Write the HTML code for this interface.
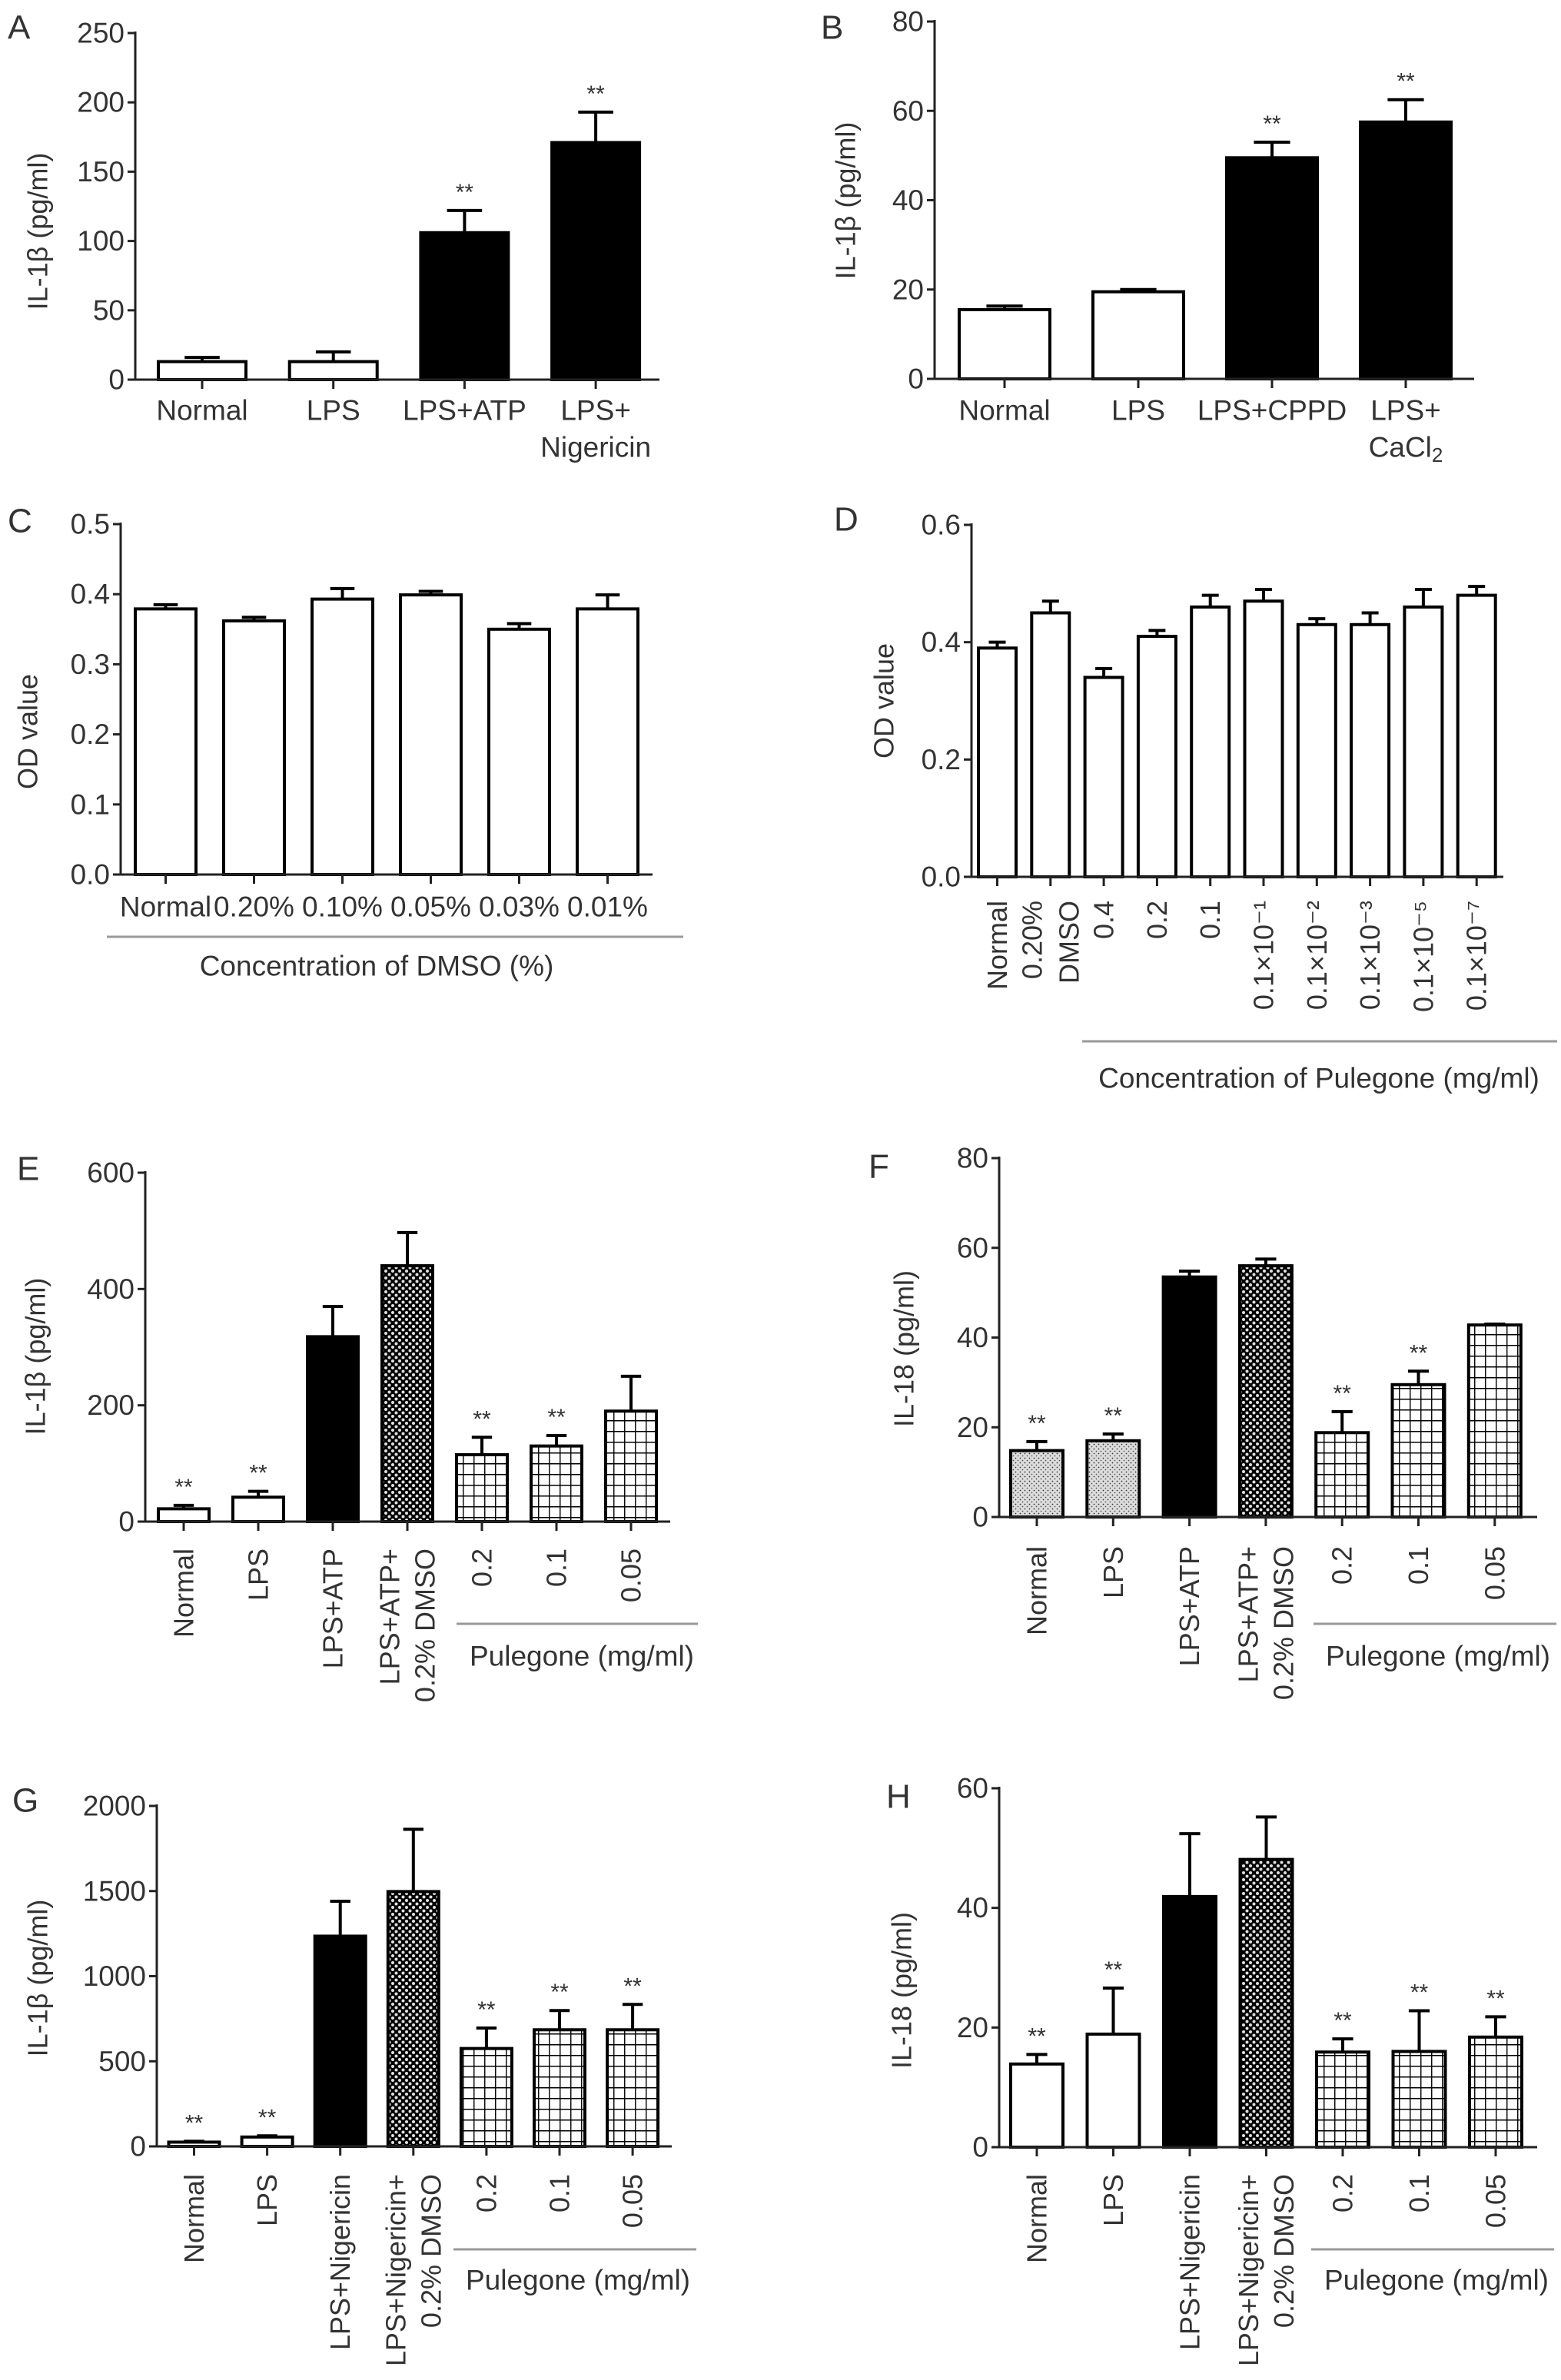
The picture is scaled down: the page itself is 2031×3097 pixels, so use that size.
<!DOCTYPE html>
<html><head><meta charset="utf-8">
<style>
html,body{margin:0;padding:0;background:#fff;}
svg{display:block;}
text{font-family:"Liberation Sans",Arial,sans-serif;fill:#333;}
</style></head>
<body>
<svg id="fig" xmlns="http://www.w3.org/2000/svg" width="2031" height="3097" viewBox="0 0 2031 3097">
<defs>
<pattern id="dots" width="9" height="9" patternUnits="userSpaceOnUse"><rect width="9" height="9" fill="#000"/><circle cx="2.5" cy="2.5" r="2" fill="#e0e0e0"/><circle cx="7" cy="7" r="2" fill="#e0e0e0"/></pattern>
<pattern id="grid" width="14" height="14" patternUnits="userSpaceOnUse"><rect width="14" height="14" fill="#fff"/><path d="M0 0.75H14M0.75 0V14" stroke="#000" stroke-width="1.4"/></pattern>
<pattern id="stip" width="6" height="6" patternUnits="userSpaceOnUse"><rect width="6" height="6" fill="#ddd"/><circle cx="1.5" cy="1.5" r="0.9" fill="#333"/><circle cx="4.5" cy="4.5" r="0.9" fill="#555"/></pattern>
</defs>
</svg>
<script>
// ---- data ----
const aCats=["Normal","LPS","LPS+ATP","LPS+\nNigericin"];
const aVals=[13,13,106,171];
const aErrs=[16,20,122,193];
const aStars=[0,0,1,1];
const aTicks=[0,50,100,150,200,250];

const bCats=["Normal","LPS","LPS+CPPD","LPS+\nCaCl_2"];
const bVals=[15.5,19.5,49.5,57.5];
const bErrs=[16.3,20,53,62.5];
const bStars=[0,0,1,1];
const bTicks=[0,20,40,60,80];

const cCats=["Normal","0.20%","0.10%","0.05%","0.03%","0.01%"];
const cVals=[0.379,0.362,0.393,0.399,0.350,0.379];
const cErrs=[0.385,0.367,0.408,0.404,0.358,0.399];
const cStars=[0,0,0,0,0,0];
const cTicks=[0,0.1,0.2,0.3,0.4,0.5];

const dCats=["Normal","0.20%\nDMSO","0.4","0.2","0.1","0.1×10⁻¹","0.1×10⁻²","0.1×10⁻³","0.1×10⁻⁵","0.1×10⁻⁷"];
const dVals=[0.39,0.45,0.34,0.41,0.46,0.47,0.43,0.43,0.46,0.48];
const dErrs=[0.40,0.47,0.355,0.42,0.48,0.49,0.44,0.45,0.49,0.495];
const dStars=[0,0,0,0,0,0,0,0,0,0];
const dTicks=[0,0.2,0.4,0.6];

const eCats=["Normal","LPS","LPS+ATP","LPS+ATP+\n0.2% DMSO","0.2","0.1","0.05"];
const eVals=[22,42,318,440,115,130,190];
const eErrs=[28,52,370,497,145,148,250];
const eStars=[1,1,0,0,1,1,0];
const eTicks=[0,200,400,600];

const fCats=["Normal","LPS","LPS+ATP","LPS+ATP+\n0.2% DMSO","0.2","0.1","0.05"];
const fVals=[14.8,17,53.5,56,18.8,29.5,42.8];
const fErrs=[16.8,18.5,54.8,57.5,23.5,32.5,43];
const fStars=[1,1,0,0,1,1,0];
const fTicks=[0,20,40,60,80];

const gCats=["Normal","LPS","LPS+Nigericin","LPS+Nigericin+\n0.2% DMSO","0.2","0.1","0.05"];
const gVals=[25,55,1235,1497,575,685,685];
const gErrs=[30,62,1440,1863,695,798,834];
const gStars=[1,1,0,0,1,1,1];
const gTicks=[0,500,1000,1500,2000];

const hCats=["Normal","LPS","LPS+Nigericin","LPS+Nigericin+\n0.2% DMSO","0.2","0.1","0.05"];
const hVals=[13.9,18.9,41.9,48.1,15.9,16,18.4];
const hErrs=[15.5,26.6,52.4,55.2,18.1,22.8,21.8];
const hStars=[1,1,0,0,1,1,1];
const hTicks=[0,20,40,60];

// ---- drawing ----
const NS='http://www.w3.org/2000/svg';
const svg=document.getElementById('fig');
function mk(tag,attrs,parent){const e=document.createElementNS(NS,tag);for(const k in attrs)e.setAttribute(k,attrs[k]);(parent||svg).appendChild(e);return e;}
function setText(e,s){
  if(s.indexOf('_')>=0){const parts=s.split('_');e.appendChild(document.createTextNode(parts[0]));const t=document.createElementNS(NS,'tspan');t.setAttribute('dy','10');t.setAttribute('font-size','26');t.textContent=parts[1];e.appendChild(t);}
  else e.textContent=s;
}

function panel(p,cats,vals,errs,stars,ticks,fills){
  const g=mk('g',{});
  
  
  const ys=v=>p.y0-v/p.max*(p.y0-p.top);
  const xs=i=>p.c0+i*p.pitch;
  const L=mk('text',{x:p.lx,y:p.ly,'font-size':44,'dominant-baseline':'central',fill:'#222'},g);
  L.textContent=p.id;
  
  
  const yt=mk('text',{x:p.ytx,y:p.yty,'font-size':36,'text-anchor':'middle','dominant-baseline':'central',transform:`rotate(-90 ${p.ytx} ${p.yty})`},g);
  yt.textContent=p.ytitle;
  
  
  const ya=mk('line',{x1:p.ax,y1:p.top-2,x2:p.ax,y2:p.y0,stroke:'#222','stroke-width':3},g);
  
  
  ticks.forEach(t=>{
    const y=ys(t);
    const tl=mk('line',{x1:p.ax-10,y1:y,x2:p.ax,y2:y,stroke:'#222','stroke-width':3},g);
    
    
    const tx=mk('text',{x:p.ax-14,y:y,'font-size':37,'text-anchor':'end','dominant-baseline':'central',fill:'#444'},g);
    tx.textContent=p.dec?t.toFixed(p.dec):String(t);
    
    
  });
  vals.forEach((v,i)=>{
    const cx=xs(i), w=p.bw;
    const r=mk('rect',{x:cx-w/2,y:ys(v),width:w,height:p.y0-ys(v),fill:fills[i],stroke:'#000','stroke-width':4},g);
    
    
    const e=errs[i];
    const el=mk('line',{x1:cx,y1:ys(v),x2:cx,y2:ys(e),stroke:'#000','stroke-width':4},g);
    
    
    const cw=Math.max(w*0.4,22);
    const ec=mk('line',{x1:cx-cw/2,y1:ys(e),x2:cx+cw/2,y2:ys(e),stroke:'#000','stroke-width':4},g);
    
    
    if(stars[i]){
      const s=mk('text',{x:cx,y:ys(e)-14,'font-size':30,'text-anchor':'middle',fill:'#444'},g);
      s.textContent='**';
      
      
    }
    const xt=mk('line',{x1:cx,y1:p.y0,x2:cx,y2:p.y0+12,stroke:'#222','stroke-width':3},g);
    
    
    const lines=cats[i].split('\n');
    lines.forEach((ln,j)=>{
      let t;
      if(p.rot){
        const lx=cx+(j-(lines.length-1)/2)*p.lg;
        t=mk('text',{x:lx,y:p.labY,'font-size':36,'text-anchor':'end','dominant-baseline':'central',transform:`rotate(-90 ${lx} ${p.labY})`},g);
      } else {
        t=mk('text',{x:cx,y:p.labY+j*48,'font-size':p.lfs||37,'text-anchor':'middle','dominant-baseline':'central'},g);
      }
      setText(t,ln);
      
      
    });
  });
  const xa=mk('line',{x1:p.ax,y1:p.y0,x2:p.end,y2:p.y0,stroke:'#222','stroke-width':3},g);
  
  
  if(p.grp){
    const gl=mk('line',{x1:p.grp.x1,y1:p.grp.y,x2:p.grp.x2,y2:p.grp.y,stroke:'#999','stroke-width':3},g);
    
    
    const gt=mk('text',{x:p.grp.tx,y:p.grp.ty,'font-size':37,'text-anchor':'middle','dominant-baseline':'central'},g);
    gt.textContent=p.grp.text;
    
    
  }
}

const W='#fff',K='#000',D='url(#dots)',G='url(#grid)',S='url(#stip)';
panel({id:'A',lx:10,ly:36,ytx:49,yty:301,ytitle:'IL-1β (pg/ml)',ax:176,end:858,y0:494,top:43,max:250,c0:263,pitch:170.7,bw:114,labY:534},aCats,aVals,aErrs,aStars,aTicks,[W,W,K,K]);
panel({id:'B',lx:1068,ly:36,ytx:1100,yty:261,ytitle:'IL-1β (pg/ml)',ax:1216,end:1918,y0:493,top:28,max:80,c0:1307,pitch:174,bw:118,labY:534},bCats,bVals,bErrs,bStars,bTicks,[W,W,K,K]);
panel({id:'C',lx:10,ly:678,ytx:36,yty:952,ytitle:'OD value',ax:157,end:849,y0:1138,top:682,max:0.5,dec:1,c0:215.5,pitch:115,bw:79,labY:1180,lfs:37,
  grp:{x1:139,x2:889,y:1219,tx:490,ty:1257,text:'Concentration of DMSO (%)'}},cCats,cVals,cErrs,cStars,cTicks,[W,W,W,W,W,W]);
panel({id:'D',lx:1085,ly:676,ytx:1150,yty:912,ytitle:'OD value',ax:1264,end:1956,y0:1141,top:683,max:0.6,dec:1,c0:1297.5,pitch:69.3,bw:49,rot:1,labY:1172,lg:48,
  grp:{x1:1408,x2:2026,y:1355,tx:1716,ty:1403,text:'Concentration of Pulegone (mg/ml)'}},dCats,dVals,dErrs,dStars,dTicks,[W,W,W,W,W,W,W,W,W,W]);
panel({id:'E',lx:22,ly:1521,ytx:46,yty:1765,ytitle:'IL-1β (pg/ml)',ax:189,end:872,y0:1980,top:1526,max:600,c0:239,pitch:97,bw:66,rot:1,labY:2015,lg:46,
  grp:{x1:594,x2:908,y:2113,tx:757,ty:2155,text:'Pulegone (mg/ml)'}},eCats,eVals,eErrs,eStars,eTicks,[W,W,K,D,G,G,G]);
panel({id:'F',lx:1130,ly:1518,ytx:1176,yty:1755,ytitle:'IL-18 (pg/ml)',ax:1300,end:2000,y0:1974,top:1507,max:80,c0:1349,pitch:99.3,bw:68,rot:1,labY:2012,lg:46,
  grp:{x1:1709,x2:2025,y:2113,tx:1871,ty:2155,text:'Pulegone (mg/ml)'}},fCats,fVals,fErrs,fStars,fTicks,[S,S,K,D,G,G,G]);
panel({id:'G',lx:16,ly:2343,ytx:49,yty:2574,ytitle:'IL-1β (pg/ml)',ax:204,end:874,y0:2793,top:2350,max:2000,c0:252.5,pitch:95.1,bw:66,rot:1,labY:2829,lg:46,
  grp:{x1:590,x2:906,y:2927,tx:752,ty:2967,text:'Pulegone (mg/ml)'}},gCats,gVals,gErrs,gStars,gTicks,[W,W,K,D,G,G,G]);
panel({id:'H',lx:1153,ly:2338,ytx:1173,yty:2590,ytitle:'IL-18 (pg/ml)',ax:1300,end:2000,y0:2794,top:2327,max:60,c0:1349,pitch:99.5,bw:68,rot:1,labY:2829,lg:46,
  grp:{x1:1706,x2:2022,y:2927,tx:1869,ty:2967,text:'Pulegone (mg/ml)'}},hCats,hVals,hErrs,hStars,hTicks,[W,W,K,D,G,G,G]);
</script>
</body></html>
